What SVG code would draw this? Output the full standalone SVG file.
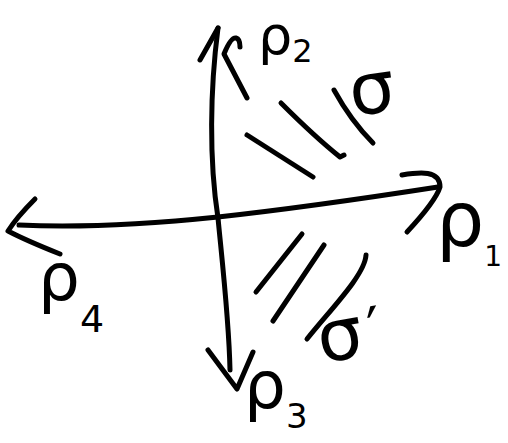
<svg xmlns="http://www.w3.org/2000/svg" width="508" height="443" viewBox="0 0 508 443">
<style>
.s{fill:none;stroke:#000;stroke-width:5;stroke-linecap:round;stroke-linejoin:round}
.t{font-family:"DejaVu Sans",sans-serif;fill:#000}
</style>
<rect width="508" height="443" fill="#fff"/>
<g id="connectors" class="s">
<path id="axis-rho2" d="M218,28 C210,90 209,160 218,218 C222,260 229,320 230,370"/>
<path d="M200,60 L218,28"/>
<path d="M247,98 L224,54 C228,44 232,37 236,38 C240,39 240,44 240,47"/>
<path id="axis-rho1-rho4" d="M19,225 C80,228 150,224 218,217 C300,208 380,196 438,187"/>
<path d="M402,175 C420,172 440,170 440,187 C436,200 420,218 407,232"/>
<path d="M35,199 C26,208 15,220 8,231 C25,240 45,248 60,254"/>
<path d="M208,350 L237,389 L253,352"/>
</g>
<g id="hatch-sigma" class="s">
<path d="M247,135 L313,177"/>
<path d="M281,103 C300,122 325,145 340,157 L344,155"/>
<path d="M334,90 C345,110 358,128 373,143"/>
</g>
<g id="hatch-sigma-prime" class="s">
<path d="M302,234 L256,292"/>
<path d="M324,245 L273,321"/>
<path d="M366,255 C365,275 330,310 307,339"/>
</g>
<g id="rho2"><text class="t" x="258" y="54" font-size="54">ρ<tspan font-size="32" dy="8">2</tspan></text></g>
<g id="rho1"><text class="t" x="436" y="246" font-size="76">ρ<tspan font-size="28" dy="20">1</tspan></text></g>
<g id="rho3"><text class="t" x="244" y="408" font-size="66">ρ<tspan font-size="34" dy="20">3</tspan></text></g>
<g id="rho4"><text class="t" x="38" y="300" font-size="66">ρ<tspan font-size="38" dy="32">4</tspan></text></g>
<g id="sigma"><text class="t" x="350" y="113" font-size="72" transform="rotate(-8 375 97)">σ</text></g>
<g id="sigma-prime"><text class="t" x="318" y="358" font-size="72" transform="rotate(-10 350 340)">σ<tspan font-size="60" dx="6" dy="-4">′</tspan></text></g>
</svg>
